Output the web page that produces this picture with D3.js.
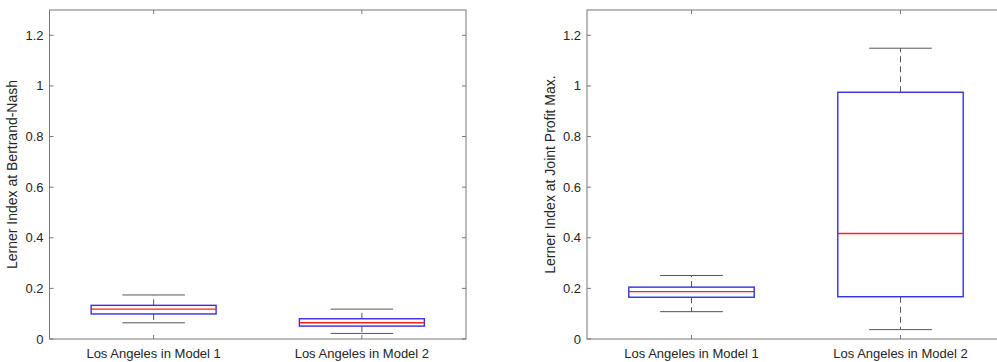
<!DOCTYPE html>
<html>
<head>
<meta charset="utf-8">
<script src="https://cdn.jsdelivr.net/npm/d3@7"></script>
<style>
  body { margin: 0; background: #fff; }
  svg { display: block; }
  text { font-family: "Liberation Sans", Arial, sans-serif; fill: #262626; }
</style>
</head>
<body>
<script>
// categories shared by both panels
var categories = ["Los Angeles in Model 1", "Los Angeles in Model 2"]
var yTicks = [0, 0.2, 0.4, 0.6, 0.8, 1, 1.2]

// box stats: [lower whisker, q1, median, q3, upper whisker]
var bertrandStats = [
  [0.064, 0.099, 0.118, 0.133, 0.174],
  [0.022, 0.051, 0.064, 0.080, 0.118]
]
var jointStats = [
  [0.108, 0.165, 0.187, 0.205, 0.251],
  [0.037, 0.167, 0.417, 0.975, 1.149]
]

var W = 997, H = 362

var svg = d3.select("body").append("svg")
    .attr("width", W)
    .attr("height", H)

function drawPanel(left, width, stats, ylabel, labelX) {
  var top = 10, bottom = 339

  var x = d3.scaleLinear()
      .domain([0.5, 2.5])
      .range([left, left + width])
  var y = d3.scaleLinear()
      .domain([0, 1.3])
      .range([bottom, top])

  var g = svg.append("g")

  // axes box
  g.append("rect")
      .attr("x", left)
      .attr("y", top)
      .attr("width", width)
      .attr("height", bottom - top)
      .attr("fill", "none")
      .attr("stroke", "#777")
      .attr("stroke-width", 1)

  // inward ticks, left + right
  yTicks.forEach(function(t) {
    g.append("line").attr("x1", left).attr("x2", left + 4)
        .attr("y1", y(t)).attr("y2", y(t)).attr("stroke", "#777")
    g.append("line").attr("x1", left + width - 4).attr("x2", left + width)
        .attr("y1", y(t)).attr("y2", y(t)).attr("stroke", "#777")
    g.append("text")
        .attr("x", left - 6)
        .attr("y", y(t))
        .attr("dy", "0.35em")
        .attr("text-anchor", "end")
        .style("font-size", "13px")
        .text(t)
  })

  // category ticks, top + bottom
  categories.forEach(function(c, i) {
    var cx = x(i + 1)
    g.append("line").attr("x1", cx).attr("x2", cx)
        .attr("y1", bottom).attr("y2", bottom - 4).attr("stroke", "#777")
    g.append("line").attr("x1", cx).attr("x2", cx)
        .attr("y1", top).attr("y2", top + 4).attr("stroke", "#777")
    g.append("text")
        .attr("x", cx)
        .attr("y", bottom + 19)
        .attr("text-anchor", "middle")
        .style("font-size", "13px")
        .text(c)
  })

  // y label
  g.append("text")
      .attr("transform", "translate(" + labelX + "," + ((top + bottom) / 2) + ") rotate(-90)")
      .attr("text-anchor", "middle")
      .style("font-size", "14px")
      .text(ylabel)

  var boxW = 0.3, capW = 0.15

  stats.forEach(function(s, i) {
    var c = i + 1
    var cx = x(c)
    // whiskers (dashed)
    g.append("line").attr("x1", cx).attr("x2", cx)
        .attr("y1", y(s[3])).attr("y2", y(s[4]))
        .attr("stroke", "#555").attr("stroke-dasharray", "6,4")
    g.append("line").attr("x1", cx).attr("x2", cx)
        .attr("y1", y(s[1])).attr("y2", y(s[0]))
        .attr("stroke", "#555").attr("stroke-dasharray", "6,4")
    // caps
    g.append("line").attr("x1", x(c - capW)).attr("x2", x(c + capW))
        .attr("y1", y(s[4])).attr("y2", y(s[4])).attr("stroke", "#555")
    g.append("line").attr("x1", x(c - capW)).attr("x2", x(c + capW))
        .attr("y1", y(s[0])).attr("y2", y(s[0])).attr("stroke", "#555")
    // box
    g.append("rect")
        .attr("x", x(c - boxW))
        .attr("y", y(s[3]))
        .attr("width", x(c + boxW) - x(c - boxW))
        .attr("height", y(s[1]) - y(s[3]))
        .attr("fill", "none")
        .attr("stroke", "#3030e8")
        .attr("stroke-width", 1.4)
    // median
    g.append("line").attr("x1", x(c - boxW)).attr("x2", x(c + boxW))
        .attr("y1", y(s[2])).attr("y2", y(s[2]))
        .attr("stroke", "#ff2020")
        .attr("stroke-width", 1.4)
  })
}

drawPanel(49.5, 416.5, bertrandStats, "Lerner Index at Bertrand-Nash", 17)
drawPanel(587, 418, jointStats, "Lerner Index at Joint Profit Max.", 555)
</script>
</body>
</html>
